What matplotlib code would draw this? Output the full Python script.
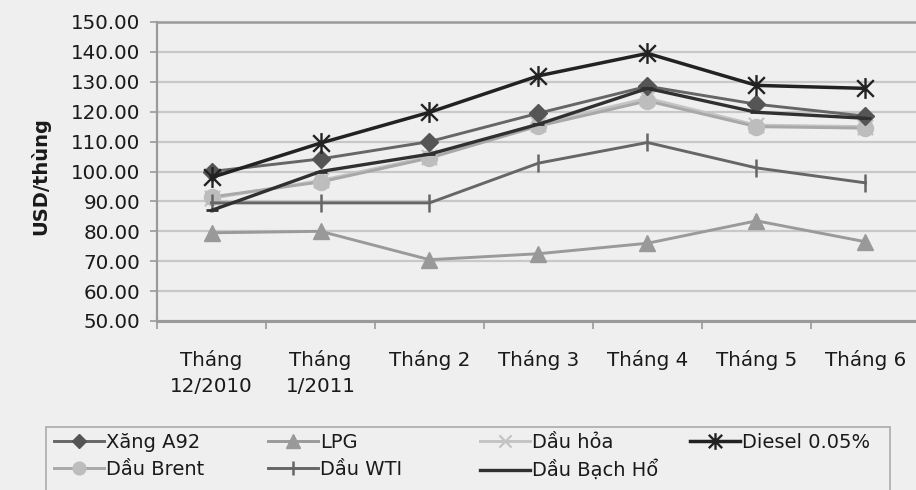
import matplotlib
matplotlib.use("Agg")
import matplotlib.pyplot as plt
from matplotlib.path import Path
from matplotlib.patches import Rectangle
import numpy as np

categories = ["Tháng\n12/2010", "Tháng\n1/2011", "Tháng 2", "Tháng 3", "Tháng 4", "Tháng 5", "Tháng 6"]
xang_a92 = [100.0, 104.2, 110.0, 119.5, 128.5, 122.5, 118.5]
lpg = [79.5, 80.0, 70.5, 72.5, 76.0, 83.5, 76.5]
dau_hoa = [91.0, 97.0, 105.0, 116.0, 124.5, 115.5, 115.0]
diesel = [98.0, 109.5, 119.8, 132.0, 139.5, 128.8, 127.8]
dau_brent = [91.5, 96.5, 104.5, 115.2, 123.6, 115.0, 114.5]
dau_wti = [89.5, 89.5, 89.5, 102.8, 109.7, 101.2, 96.2]
dau_bach_ho = [87.0, 100.0, 105.8, 115.8, 127.8, 119.8, 117.8]
yticks = [50, 60, 70, 80, 90, 100, 110, 120, 130, 140, 150]

plt.rcParams['font.family'] = ['DejaVu Sans']
txt = '#1a1a1a'
bg = '#efefef'

fig = plt.figure(figsize=(9.16, 4.9), dpi=100, facecolor=bg)
ax = fig.add_axes([157/916, 1-321/490, (920-157)/916, (321-22)/490])
ax.set_facecolor(bg)

x = np.arange(len(categories))

star = Path([(-1, -1), (1, 1), (-1, 1), (1, -1), (0, -1.25), (0, 1.25)],
            [Path.MOVETO, Path.LINETO, Path.MOVETO, Path.LINETO, Path.MOVETO, Path.LINETO])
xmark = Path([(-1, -1), (1, 1), (-1, 1), (1, -1)],
             [Path.MOVETO, Path.LINETO, Path.MOVETO, Path.LINETO])

lw = 2.1
h_hoa, = ax.plot(x, dau_hoa, color='#c4c4c4', lw=lw, marker=xmark, ms=11, mec='#c4c4c4',
                 mfc='none', mew=1.6, label='Dầu hỏa', zorder=3)
h_brent, = ax.plot(x, dau_brent, color='#a8a8a8', lw=lw, marker='o', ms=11.5, mec='#bdbdbd',
                   mfc='#bdbdbd', label='Dầu Brent', zorder=4)
h_lpg, = ax.plot(x, lpg, color='#9a9a9a', lw=lw, marker='^', ms=12, mec='#999999',
                 mfc='#999999', label='LPG', zorder=4)
h_wti, = ax.plot(x, dau_wti, color='#666666', lw=lw, marker='|', ms=13, mec='#666666',
                 mew=1.8, label='Dầu WTI', zorder=4)
h_xang, = ax.plot(x, xang_a92, color='#666666', lw=lw, marker='D', ms=9, mec='#555555',
                  mfc='#555555', label='Xăng A92', zorder=5)
h_bh, = ax.plot(x, dau_bach_ho, color='#303030', lw=lw+0.3, marker='_', ms=8, mec='#303030',
                mew=2, label='Dầu Bạch Hổ', zorder=6)
h_diesel, = ax.plot(x, diesel, color='#222222', lw=lw+0.4, marker=star, ms=15, mec='#222222',
                    mfc='none', mew=1.7, label='Diesel 0.05%', zorder=7)

ax.set_xlim(-0.5, len(categories) - 0.5)
ax.set_ylim(50, 150)
ax.set_yticks(yticks)
ax.set_yticklabels([f"{v:.2f}" for v in yticks])
ax.set_xticks(x)
ax.set_xticklabels(categories, linespacing=1.45)
ax.set_xticks(np.arange(len(categories) + 1) - 0.5, minor=True)
ax.tick_params(axis='x', which='major', length=0, pad=21, labelsize=14.3, colors=txt)
ax.tick_params(axis='x', which='minor', length=6, width=1.2, color='#999999', direction='out')
ax.tick_params(axis='y', length=5, width=1.2, color='#999999', pad=7, labelsize=14.3, labelcolor=txt)
ax.grid(axis='y', color='#c8c8c8', lw=1.6, zorder=0)
ax.set_axisbelow(True)
ax.spines['right'].set_visible(False)
ax.spines['top'].set_color('#9a9a9a')
ax.spines['top'].set_linewidth(1.8)
ax.spines['left'].set_color('#9a9a9a')
ax.spines['left'].set_linewidth(1.6)
ax.spines['bottom'].set_color('#9a9a9a')
ax.spines['bottom'].set_linewidth(2.2)

fig.text(40/916, 1-176/490, 'USD/thùng', rotation=90, ha='center', va='center',
         fontsize=14, fontweight='bold', color=txt)

# legend frame
fig.patches.append(Rectangle((46/916, -0.05), (890-46)/916, (1-427/490) + 0.05,
                             transform=fig.transFigure, facecolor=bg, edgecolor='#b0b0b0',
                             lw=1.3, zorder=0))
columns = [[h_xang, h_brent], [h_lpg, h_wti], [h_hoa, h_bh], [h_diesel]]
col_x = [50, 264, 476, 686]
for hs, cx in zip(columns, col_x):
    leg = fig.legend(handles=hs, loc='upper left', bbox_to_anchor=(cx/916, 1-429/490),
                     frameon=False, fontsize=14, handlelength=2.6, handletextpad=0.1,
                     labelspacing=0.4, borderaxespad=0, borderpad=0.2, labelcolor=txt)
    for h in leg.legend_handles:
        ms = h.get_markersize()
        h.set_markersize(ms * 0.8)

fig.savefig('out.png', dpi=100, facecolor=bg)
